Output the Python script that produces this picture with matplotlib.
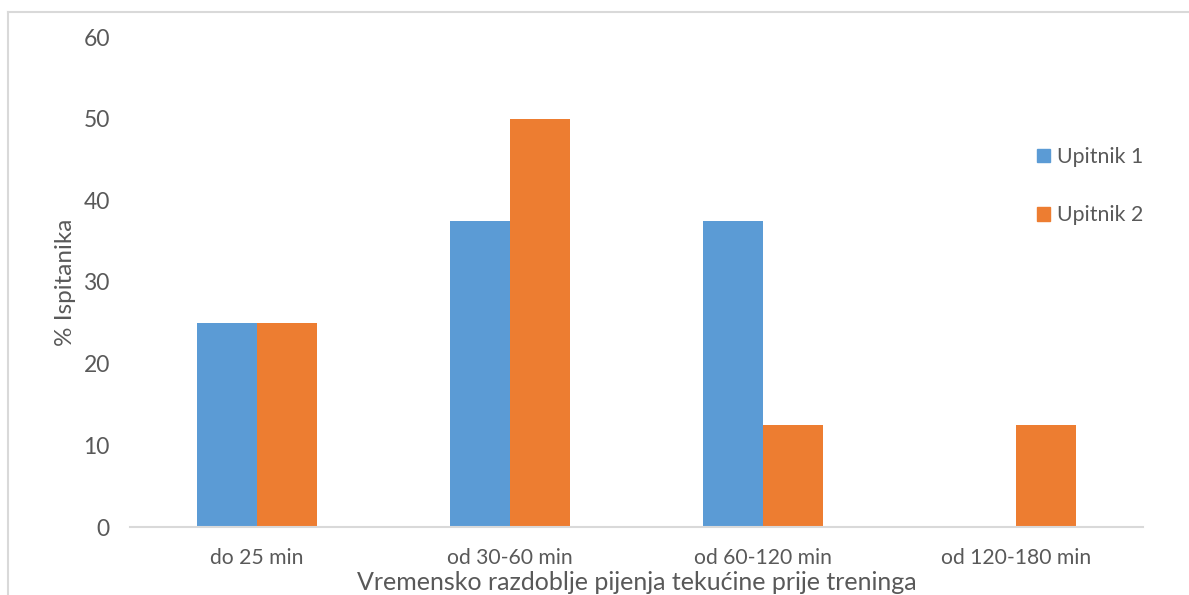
import matplotlib
matplotlib.use("Agg")
import matplotlib.pyplot as plt
from matplotlib.lines import Line2D
import numpy as np

categories = ["do 25 min", "od 30-60 min", "od 60-120 min", "od 120-180 min"]
upitnik1 = [25, 37.5, 37.5, 0]
upitnik2 = [25, 50, 12.5, 12.5]
series_names = ["Upitnik 1", "Upitnik 2"]
yticks = [0, 10, 20, 30, 40, 50, 60]

blue = "#5B9BD5"
orange = "#ED7D31"
txt = "#595959"
font = "Lato"

W, H = 1189, 595
fig = plt.figure(figsize=(W / 100, H / 100), dpi=100)
ax = fig.add_axes([130 / W, 1 - 527 / H, (1143 - 130) / W, (527 - 37) / H])

x = np.arange(len(categories))
bw = 0.237
ax.bar(x - bw / 2, upitnik1, bw, color=blue, label=series_names[0])
ax.bar(x + bw / 2, upitnik2, bw, color=orange, label=series_names[1])

ax.set_xlim(-0.5, len(categories) - 0.5)
ax.set_ylim(0, 60)
ax.set_yticks(yticks)
ax.set_yticklabels([str(v) for v in yticks], fontsize=16.5, color=txt, family=font)
ax.set_xticks(x)
ax.set_xticklabels(categories, fontsize=15.2, color=txt, family=font)
ax.tick_params(axis="both", length=0)
ax.tick_params(axis="y", pad=14.5)
ax.tick_params(axis="x", pad=15)
for s in ["top", "right", "left"]:
    ax.spines[s].set_visible(False)
ax.spines["bottom"].set_color("#D9D9D9")
ax.spines["bottom"].set_linewidth(1.5)

ax.set_ylabel("% Ispitanika", fontsize=17.5, color=txt, family=font, labelpad=5)
ax.set_xlabel("Vremensko razdoblje pijenja tekućine prije treninga", fontsize=18,
              color=txt, family=font, labelpad=2)

# legend
handles = [plt.Rectangle((0, 0), 1, 1, color=blue), plt.Rectangle((0, 0), 1, 1, color=orange)]
leg = fig.legend(handles, series_names, loc="upper left",
                 bbox_to_anchor=(1018 / W, 1 - 128 / H), frameon=False,
                 prop={"family": font, "size": 15.3}, labelcolor=txt,
                 handlelength=0.6, handleheight=0.6, handletextpad=0.35,
                 labelspacing=1.8)

# chart frame border
fig.add_artist(Line2D([8 / W, 8 / W], [0, 1 - 12 / H], transform=fig.transFigure,
                      color="#D9D9D9", lw=1.5))
fig.add_artist(Line2D([8 / W, 1], [1 - 12 / H, 1 - 12 / H], transform=fig.transFigure,
                      color="#D9D9D9", lw=1.5))

fig.savefig("out.png", dpi=100)
